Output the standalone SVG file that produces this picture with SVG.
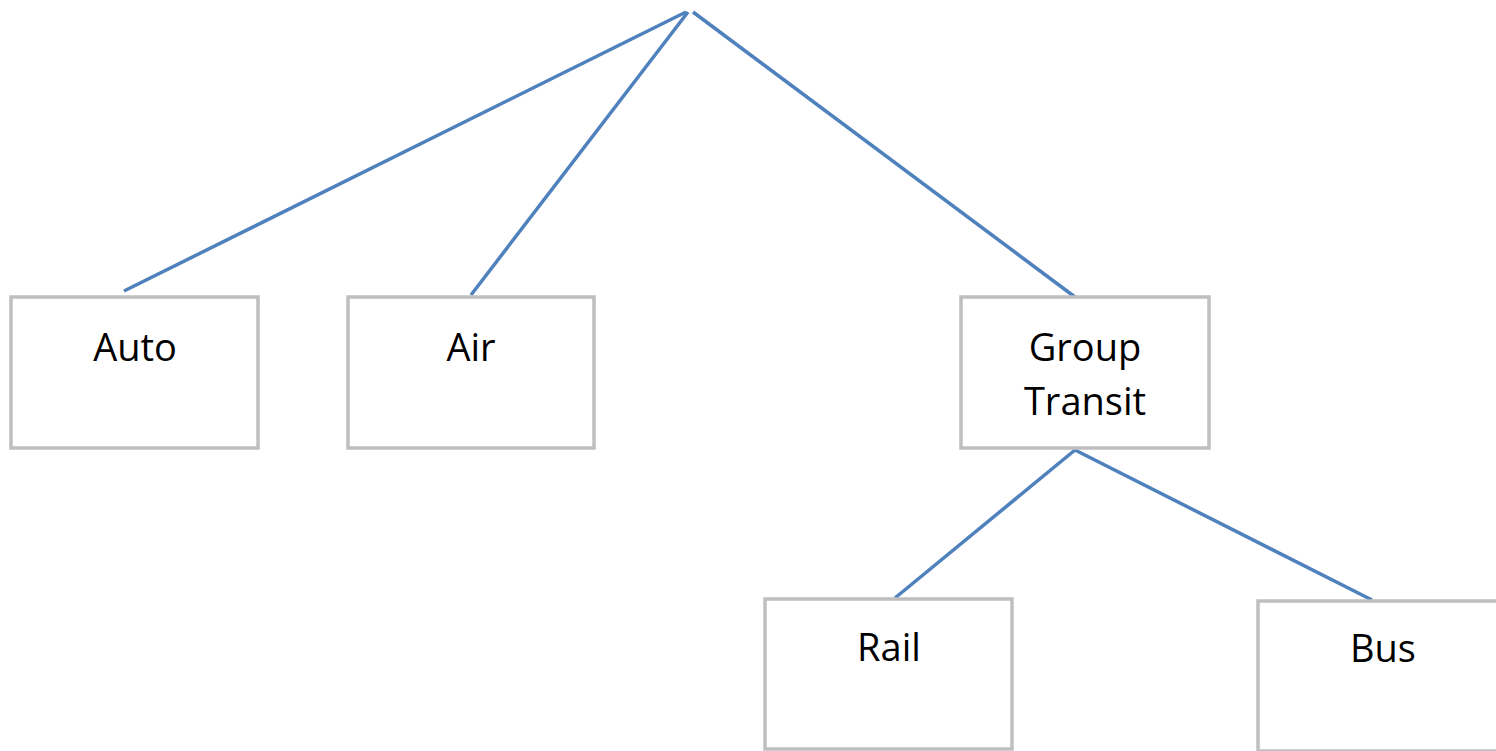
<svg xmlns="http://www.w3.org/2000/svg" width="1496" height="751" viewBox="0 0 1496 751">
<style>
.box{fill:#fff;stroke:#bfbfbf;stroke-width:3.5}
.lbl{font-family:"Open Sans","Liberation Sans",sans-serif;font-size:38px;fill:#000;text-anchor:middle}
.conn{stroke:#4f81bd;stroke-width:3.5;fill:none}
</style>
<rect width="1496" height="751" fill="#fff"/>
<g id="connectors">
<line class="conn" x1="686" y1="12" x2="124" y2="291"/>
<line class="conn" x1="688" y1="12" x2="471" y2="295"/>
<line class="conn" x1="693" y1="12" x2="1075" y2="297"/>
<line class="conn" x1="1075" y1="450" x2="895" y2="598"/>
<line class="conn" x1="1075" y1="450" x2="1372" y2="600"/>
</g>
<g id="auto"><rect class="box" x="11" y="297" width="247" height="151"/><text class="lbl" x="135" y="361">Auto</text></g>
<g id="air"><rect class="box" x="348" y="297" width="246" height="151"/><text class="lbl" x="471" y="361">Air</text></g>
<g id="group-transit"><rect class="box" x="961" y="297" width="248" height="151"/><text class="lbl" x="1085" y="361">Group</text><text class="lbl" x="1085" y="415">Transit</text></g>
<g id="rail"><rect class="box" x="765" y="599" width="247" height="150"/><text class="lbl" x="889" y="661">Rail</text></g>
<g id="bus"><rect class="box" x="1258" y="601" width="247" height="150"/><text class="lbl" x="1383" y="662">Bus</text></g>
</svg>
